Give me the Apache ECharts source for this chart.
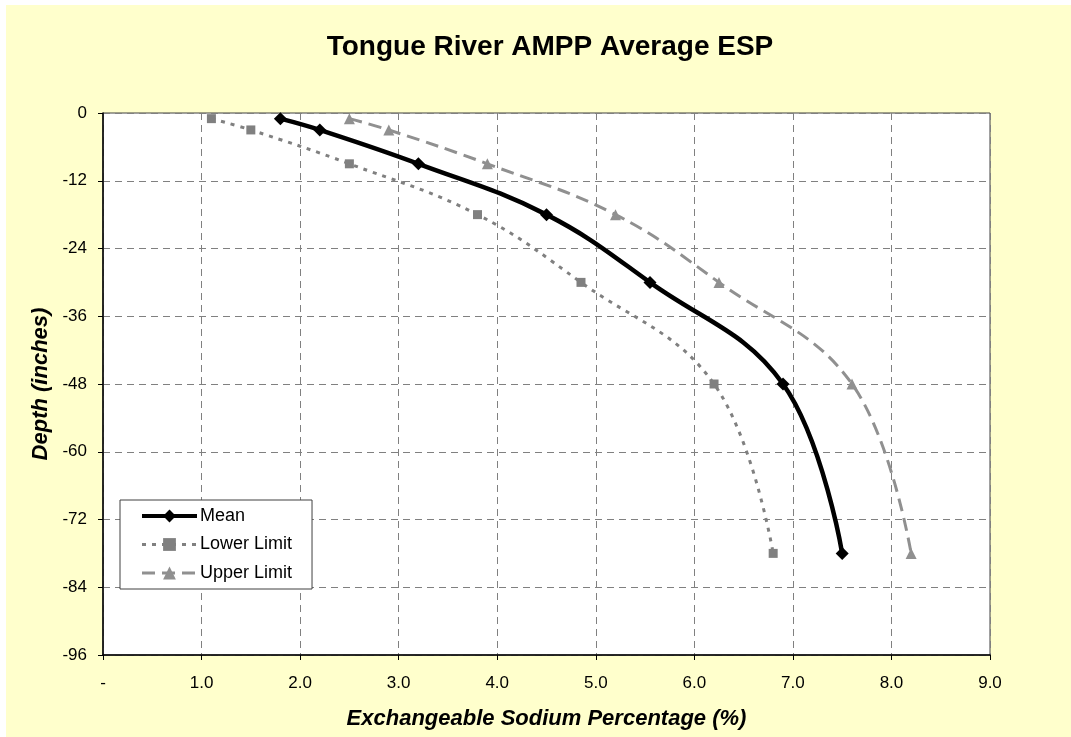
<!DOCTYPE html>
<html>
<head>
<meta charset="utf-8">
<script src="https://cdn.jsdelivr.net/npm/echarts@6/dist/echarts.min.js"></script>
<style>
html,body{margin:0;padding:0;background:#ffffff;}
#chart{position:absolute;left:6px;top:5px;width:1065px;height:732px;background:#FFFFCC;}
</style>
</head>
<body>
<div id="chart"></div>
<script>
var depths = [-1, -3, -9, -18, -30, -48, -78];
var meanESP = [1.8, 2.2, 3.2, 4.5, 5.55, 6.9, 7.5];
var lowerESP = [1.1, 1.5, 2.5, 3.8, 4.85, 6.2, 6.8];
var upperESP = [2.5, 2.9, 3.9, 5.2, 6.25, 7.6, 8.2];
var xTicks = ['-', '1.0', '2.0', '3.0', '4.0', '5.0', '6.0', '7.0', '8.0', '9.0'];

function pairs(xs) { return xs.map(function (x, i) { return [x, depths[i]]; }); }

var FONT = 'Liberation Sans, Arial, sans-serif';
var chart = echarts.init(document.getElementById('chart'));
chart.setOption({
  backgroundColor: '#FFFFCC',
  animation: false,
  title: {
    text: 'Tongue River AMPP Average ESP',
    left: 539, top: 23, textAlign: 'center',
    textStyle: { fontFamily: FONT, fontSize: 28, fontWeight: 'bold', color: '#000' }
  },
  grid: {
    left: 97, top: 108, right: 81, bottom: 82,
    show: true, backgroundColor: '#ffffff', borderColor: '#404040', borderWidth: 1
  },
  legend: {
    orient: 'vertical', left: 114, top: 495,
    backgroundColor: '#ffffff', borderColor: '#404040', borderWidth: 1,
    padding: [7, 20, 7, 20], itemWidth: 55, itemHeight: 16, itemGap: 10.5,
    textStyle: { fontFamily: FONT, fontSize: 18, color: '#000', padding: [0, 0, 0, -2] },
    data: [
      { name: 'Mean', lineStyle: { width: 4 } },
      { name: 'Lower Limit', lineStyle: { width: 3 } },
      { name: 'Upper Limit', lineStyle: { width: 3 } }
    ]
  },
  xAxis: {
    type: 'value', min: 0, max: 9, interval: 1,
    name: 'Exchangeable Sodium Percentage (%)', nameLocation: 'middle', nameGap: 53,
    nameTextStyle: { fontFamily: FONT, fontSize: 22, fontWeight: 'bold', fontStyle: 'italic', color: '#000' },
    axisLine: { onZero: false, lineStyle: { color: '#000', width: 1.5 } },
    axisTick: { show: true, length: 5, lineStyle: { color: '#000' } },
    axisLabel: { fontFamily: FONT, fontSize: 17, color: '#000', margin: 20,
      formatter: function (v) { return xTicks[Math.round(v)]; } },
    splitLine: { show: true, lineStyle: { color: '#808080', type: [7, 5], width: 1 } }
  },
  yAxis: {
    type: 'value', min: -96, max: 0, interval: 12,
    name: 'Depth (inches)', nameLocation: 'middle', nameGap: 50, nameRotate: 90,
    nameTextStyle: { fontFamily: FONT, fontSize: 22, fontWeight: 'bold', fontStyle: 'italic', color: '#000' },
    axisLine: { show: true, onZero: false, lineStyle: { color: '#000', width: 1.5 } },
    axisTick: { show: true, length: 5, lineStyle: { color: '#000' } },
    axisLabel: { fontFamily: FONT, fontSize: 17, color: '#000', margin: 16 },
    splitLine: { show: true, lineStyle: { color: '#808080', type: [7, 5], width: 1 } }
  },
  series: [
    {
      name: 'Mean', type: 'line', data: pairs(meanESP), smooth: 0.4,
      symbol: 'diamond', symbolSize: 13,
      lineStyle: { color: '#000', width: 4.5 },
      itemStyle: { color: '#000' }, z: 5
    },
    {
      name: 'Lower Limit', type: 'line', data: pairs(lowerESP), smooth: 0.4,
      symbol: 'rect', symbolSize: 9,
      lineStyle: { color: '#808080', width: 3, type: [4, 6] },
      itemStyle: { color: '#808080' }
    },
    {
      name: 'Upper Limit', type: 'line', data: pairs(upperESP), smooth: 0.4,
      symbol: 'triangle', symbolSize: 11,
      lineStyle: { color: '#909090', width: 3, type: [13, 7] },
      itemStyle: { color: '#909090' }
    }
  ]
});
</script>
</body>
</html>
